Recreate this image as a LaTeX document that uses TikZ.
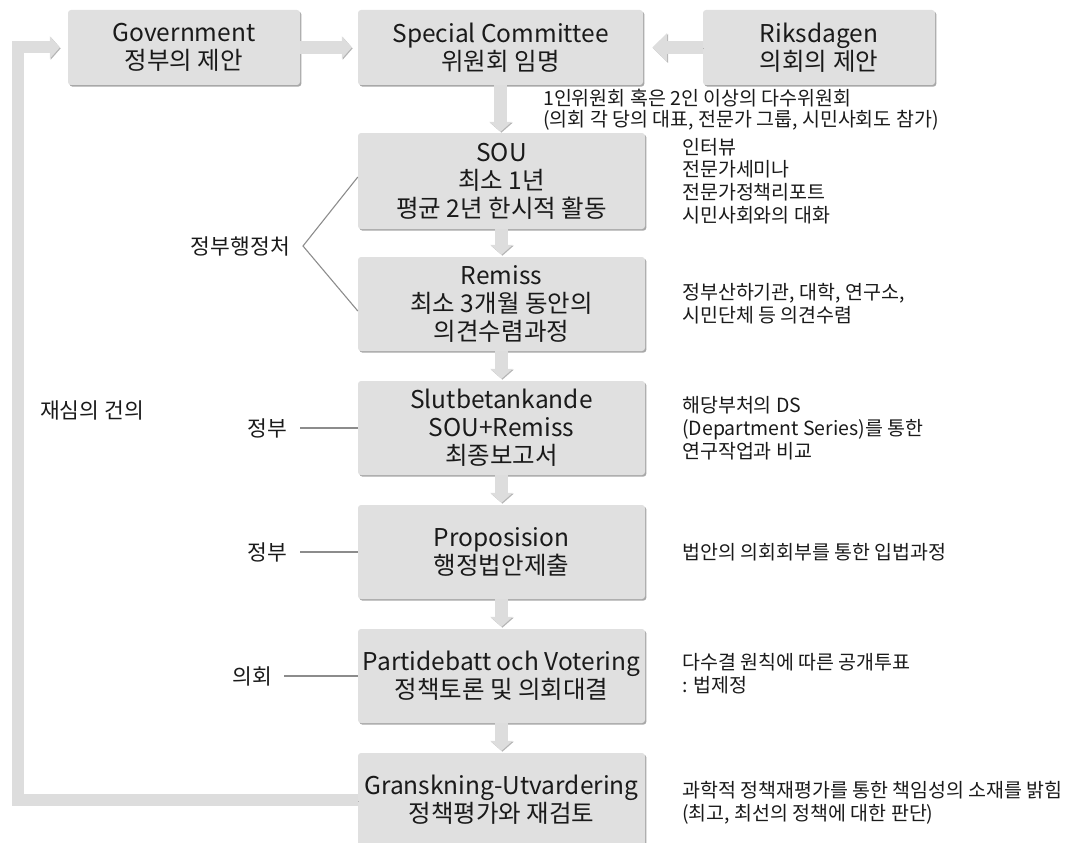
\documentclass[tikz,border=0pt]{standalone}
\usepackage{fontspec}
\setmainfont{Noto Sans CJK KR}
\usetikzlibrary{arrows.meta,shadows,calc}
\definecolor{boxgrey}{HTML}{E0E0E0}
\definecolor{shgrey}{HTML}{A8A8A8}
\definecolor{argrey}{HTML}{DDDDDD}
\definecolor{aredge}{HTML}{B4B4B4}
\definecolor{lngrey}{HTML}{8C8C8C}
\definecolor{txt}{HTML}{1A1A1A}
\begin{document}
\begin{tikzpicture}[x=1pt,y=1pt,
  stage/.style={fill=boxgrey, rounded corners=3pt, inner sep=0pt, align=center,
    font=\fontsize{24.5}{28}\selectfont, text=txt,
    drop shadow={shadow xshift=1.4pt, shadow yshift=-1.6pt, opacity=1, fill=shgrey}},
  topbox/.style={stage, minimum height=75pt},
  colbox/.style={stage, minimum width=287pt, minimum height=94pt},
  note/.style={anchor=west, align=left, font=\fontsize{19.5}{22.8}\selectfont, text=txt, inner sep=0pt},
  side/.style={anchor=east, font=\fontsize{21.5}{24}\selectfont, text=txt, inner sep=0pt},
  fat/.style={draw=argrey, line width=13pt, -{Triangle[width=22pt,length=10pt]},
    preaction={draw=aredge, transform canvas={shift={(0.9pt,-0.9pt)}}}},
  tick/.style={draw=lngrey, line width=1.1pt}]
\useasboundingbox (0,0) rectangle (1069,-843);
\clip (0,0) rectangle (1069,-843);

% top row
\node[topbox, minimum width=232pt] (gov) at (184,-47.5) {Government\\정부의 제안};
\node[topbox, minimum width=285pt] (sc) at (500.5,-47.5) {Special Committee\\위원회 임명};
\node[topbox, minimum width=232pt] (riks) at (819,-47.5) {Riksdagen\\의회의 제안};

% column
\node[colbox, minimum height=96pt] (sou) at (501.5,-181) {SOU\\최소 1년\\평균 2년 한시적 활동};
\node[colbox] (remiss) at (501.5,-304) {Remiss\\최소 3개월 동안의\\의견수렴과정};
\node[colbox] (slut) at (501.5,-428) {Slutbetankande\\SOU+Remiss\\최종보고서};
\node[colbox] (prop) at (501.5,-552) {Proposision\\행정법안제출};
\node[colbox] (parti) at (501.5,-676) {Partidebatt och Votering\\정책토론 및 의회대결};
\node[colbox] (gran) at (501.5,-800) {Granskning-Utvardering\\정책평가와 재검토};

% arrows
\draw[fat, shorten >=6pt] (gov.east) -- (sc.west);
\draw[fat, -{Triangle[width=28pt,length=15pt]}, shorten >=9pt] (riks.west) -- (sc.east);
\draw[fat, shorten >=1pt] (sc.south) -- (sc.south |- sou.north);
\draw[fat, shorten >=2pt] (sou.south) -- (remiss.north);
\draw[fat, shorten >=2pt] (remiss.south) -- (slut.north);
\draw[fat, shorten >=2pt] (slut.south) -- (prop.north);
\draw[fat, shorten >=2pt] (prop.south) -- (parti.north);
\draw[fat, shorten >=2pt] (parti.south) -- (gran.north);

% feedback loop
\coordinate (fb) at (18,-400);
\draw[fat, line width=12pt, shorten >=8pt] (gran.west) -- (gran.west -| fb) |- (gov.west);
\node[anchor=west, font=\fontsize{21.5}{24}\selectfont, text=txt, inner sep=0pt] (rev) at (40,-410) {재심의 건의};

% left labels
\node[side] (exec) at (290,-246) {정부행정처};
\coordinate (apex) at (303,-246);
\draw[tick] (sou.west |- 0,-177) -- (apex) -- (remiss.west |- 0,-311);
\node[side] (g1) at (287,-428) {정부};
\draw[tick] ([xshift=13pt]g1.east) -- (g1.east -| slut.west);
\node[side] (g2) at (287,-552) {정부};
\draw[tick] ([xshift=13pt]g2.east) -- (g2.east -| prop.west);
\node[side] (g3) at (272,-676) {의회};
\draw[tick] ([xshift=12pt]g3.east) -- (g3.east -| parti.west);

% notes
\node[note, font=\fontsize{19.5}{21}\selectfont] (n0) at (543,-110) {1인위원회 혹은 2인 이상의 다수위원회\\(의회 각 당의 대표, 전문가 그룹, 시민사회도 참가)};
\node[note] (n1) at (682,-181) {인터뷰\\전문가세미나\\전문가정책리포트\\시민사회와의 대화};
\node[note] (n2) at (682,-304) {정부산하기관, 대학, 연구소,\\시민단체 등 의견수렴};
\node[note] (n3) at (682,-428) {해당부처의 DS\\(Department Series)를 통한\\연구작업과 비교};
\node[note] (n4) at (682,-552) {법안의 의회회부를 통한 입법과정};
\node[note] (n5) at (682,-674) {다수결 원칙에 따른 공개투표\\: 법제정};
\node[note] (n6) at (682,-803) {과학적 정책재평가를 통한 책임성의 소재를 밝힘\\(최고, 최선의 정책에 대한 판단)};
\end{tikzpicture}
\end{document}
